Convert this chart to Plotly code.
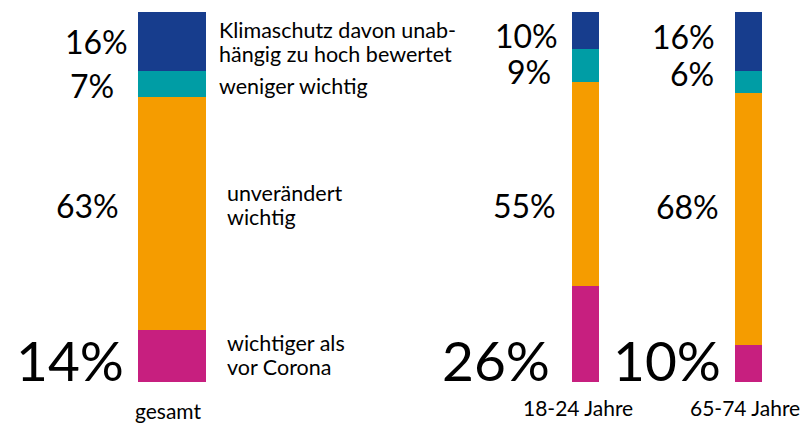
import plotly.graph_objects as go

# ---- data ----
groups = ["gesamt", "18-24 Jahre", "65-74 Jahre"]
series_names = ["wichtiger als vor Corona", "unverändert wichtig", "weniger wichtig",
                "Klimaschutz davon unabhängig zu hoch bewertet"]
wichtiger = [14, 26, 10]
unveraendert = [63, 55, 68]
weniger = [7, 9, 6]
zu_hoch = [16, 10, 16]

# ---- layout helpers (pixel positions) ----
W, H = 804, 423
TOP, BOTTOM = 12, 382            # pixel rows of 100% and 0%
bar_x = [172, 585.5, 748]
bar_w = [68, 27, 27]
group_label_x = [167.5, 578, 745]
group_label_y = [410, 407, 407]
colors = ["#C71F7F", "#F59C00", "#009DA5", "#173D8D"]
FONT = "Lato, 'Noto Sans', sans-serif"

def py(p):
    """pixel row -> paper y"""
    return (BOTTOM - p) / (BOTTOM - TOP)

fig = go.Figure()
for name, vals, col in zip(series_names, [wichtiger, unveraendert, weniger, zu_hoch], colors):
    fig.add_trace(go.Bar(x=bar_x, y=vals, width=bar_w, name=name,
                         marker=dict(color=col, line=dict(width=0)),
                         showlegend=False, hoverinfo="skip"))

ann = []
def label(text, x, ypx, size, anchor="right"):
    ann.append(dict(text=text, x=x, y=py(ypx), xref="x", yref="paper", showarrow=False,
                    xanchor=anchor, yanchor="middle",
                    font=dict(family=FONT, size=size, color="#000000")))

# percentage labels: (right edge px, centre row px) per segment
pos_top = [(130, 42), (560, 35), (717, 37)]
pos_wen = [(116, 86), (553, 71), (716, 74)]
pos_mid = [(121, 205), (558, 205), (721, 207)]
pos_bot = [(126, 360), (552, 360), (723, 360)]
for i in range(3):
    label(f"{zu_hoch[i]}%", pos_top[i][0], pos_top[i][1], 32)
    label(f"{weniger[i]}%", pos_wen[i][0], pos_wen[i][1], 32)
    label(f"{unveraendert[i]}%", pos_mid[i][0], pos_mid[i][1], 32)
    label(f"{wichtiger[i]}%", pos_bot[i][0], pos_bot[i][1], 55)

# legend-like labels next to the first bar
LS = 21.5
label("Klimaschutz davon unab-", 217, 30, LS, "left")
label("hängig zu hoch bewertet", 217, 54, LS, "left")
label("weniger wichtig", 217, 86, LS, "left")
label("unverändert", 225, 192.5, LS, "left")
label("wichtig", 225, 216.5, LS, "left")
label("wichtiger als", 225, 342.5, LS, "left")
label("vor Corona", 225, 366.5, LS, "left")

# group labels
for g, gx, gy in zip(groups, group_label_x, group_label_y):
    label(g, gx, gy, 21, "center")

fig.update_layout(
    width=W, height=H, barmode="stack",
    margin=dict(l=0, r=0, t=TOP, b=H - BOTTOM, pad=0),
    paper_bgcolor="white", plot_bgcolor="white",
    xaxis=dict(range=[0, W], visible=False, fixedrange=True),
    yaxis=dict(range=[0, 100], visible=False, fixedrange=True),
    annotations=ann, bargap=0,
)
fig.write_html("out.html", config={"displayModeBar": False},
               post_script="document.body.style.margin='0';document.body.style.overflow='hidden';")
